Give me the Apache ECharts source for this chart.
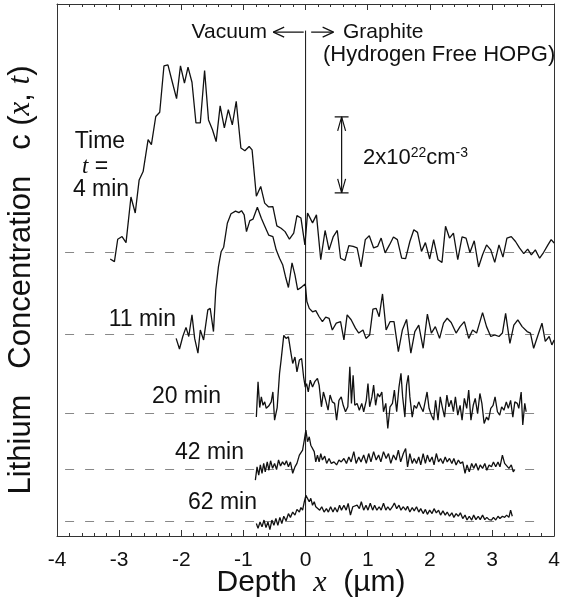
<!DOCTYPE html>
<html><head><meta charset="utf-8">
<script src="https://cdn.jsdelivr.net/npm/echarts@6/dist/echarts.min.js"></script>
<style>html,body{margin:0;padding:0;background:#fff}#c{width:563px;height:604px}</style>
</head><body><div id="c"></div>
<script>
// Depth (µm) and lithium concentration relative to each curve's baseline (10^22 cm^-3)
const curve4min = [[-3.144,-0.19],[-3.076,-0.26],[-3.023,0.33],[-2.953,0.40],[-2.889,0.24],[-2.810,1.44],[-2.741,1.02],[-2.678,1.89],[-2.614,2.11],[-2.534,2.95],[-2.481,2.82],[-2.411,3.56],[-2.347,3.67],[-2.279,4.89],[-2.215,4.92],[-2.147,4.48],[-2.076,4.03],[-2.013,4.89],[-1.949,4.44],[-1.892,4.86],[-1.828,4.46],[-1.764,3.39],[-1.694,3.39],[-1.625,4.77],[-1.562,3.47],[-1.498,3.21],[-1.439,2.90],[-1.375,3.84],[-1.307,3.26],[-1.243,3.74],[-1.179,3.34],[-1.116,3.96],[-1.041,2.73],[-0.977,2.66],[-0.908,2.77],[-0.861,2.68],[-0.792,1.46],[-0.722,1.72],[-0.658,1.28],[-0.594,1.18],[-0.526,1.19],[-0.462,0.68],[-0.394,0.62],[-0.330,0.53],[-0.260,0.33],[-0.191,0.49],[-0.139,0.95],[-0.075,0.89],[-0.011,0.18],[0.032,1.02],[0.112,0.76],[0.175,0.97],[0.244,-0.21],[0.314,0.56],[0.378,0.05],[0.446,0.40],[0.510,0.56],[0.563,-0.17],[0.633,-0.23],[0.696,0.16],[0.765,0.14],[0.829,0.10],[0.892,-0.40],[0.961,0.32],[1.025,0.42],[1.095,0.10],[1.159,0.14],[1.216,0.36],[1.280,-0.03],[1.350,0.18],[1.414,0.39],[1.477,0.32],[1.546,-0.17],[1.610,-0.18],[1.678,0.27],[1.742,0.58],[1.801,0.51],[1.865,0.01],[1.928,0.24],[1.997,-0.19],[2.061,0.32],[2.131,-0.21],[2.195,-0.28],[2.252,0.67],[2.316,0.36],[2.379,0.49],[2.449,-0.21],[2.518,0.39],[2.582,0.36],[2.645,-0.02],[2.714,0.29],[2.784,-0.40],[2.848,-0.08],[2.912,0.18],[2.980,0.05],[3.044,-0.28],[3.112,0.18],[3.176,-0.14],[3.240,0.36],[3.310,0.40],[3.378,0.27],[3.442,0.10],[3.511,-0.05],[3.574,0.07],[3.633,-0.08],[3.697,0.05],[3.766,-0.17],[3.829,-0.02],[3.900,0.18],[3.952,0.32],[4.0,0.23]];
const curve11min = [[-2.083,-0.11],[-2.029,-0.39],[-1.976,-0.06],[-1.924,0.18],[-1.880,-0.06],[-1.828,0.51],[-1.785,-0.11],[-1.732,-0.50],[-1.694,0.11],[-1.641,-0.15],[-1.573,0.64],[-1.535,0.68],[-1.482,0.07],[-1.445,1.17],[-1.402,1.78],[-1.359,2.17],[-1.318,2.29],[-1.259,2.92],[-1.200,3.17],[-1.127,3.24],[-1.073,3.20],[-1.031,3.25],[-0.988,3.14],[-0.951,2.70],[-0.897,2.99],[-0.845,3.03],[-0.776,3.34],[-0.712,3.05],[-0.658,2.85],[-0.594,2.61],[-0.526,2.57],[-0.473,2.22],[-0.419,2.00],[-0.367,1.82],[-0.324,1.52],[-0.276,1.23],[-0.218,1.88],[-0.171,1.56],[-0.127,1.17],[-0.064,1.24],[-0.005,1.32],[0.021,0.86],[0.059,0.68],[0.112,0.59],[0.164,0.62],[0.218,0.46],[0.271,0.33],[0.324,0.45],[0.378,0.42],[0.430,0.11],[0.494,0.29],[0.563,0.33],[0.617,-0.15],[0.669,0.51],[0.733,0.38],[0.802,0.16],[0.856,0.03],[0.924,0.11],[0.972,-0.11],[1.031,-0.02],[1.084,0.66],[1.136,0.68],[1.184,0.46],[1.238,1.06],[1.296,0.11],[1.359,0.33],[1.423,0.33],[1.493,-0.46],[1.557,0.11],[1.625,0.39],[1.694,-0.50],[1.758,0.07],[1.821,0.24],[1.892,-0.37],[1.960,0.53],[2.024,0.03],[2.088,0.20],[2.156,-0.11],[2.220,0.29],[2.279,0.42],[2.343,0.31],[2.422,0.03],[2.486,0.20],[2.555,0.33],[2.625,-0.11],[2.688,0.11],[2.752,0.03],[2.848,0.57],[2.912,0.20],[2.980,-0.06],[3.044,-0.02],[3.112,-0.06],[3.167,0.03],[3.219,0.55],[3.288,-0.24],[3.351,0.24],[3.415,0.38],[3.485,0.20],[3.565,0.07],[3.618,0.03],[3.670,-0.37],[3.740,-0.02],[3.804,0.29],[3.857,-0.19],[3.920,-0.06],[3.963,-0.28],[4.0,-0.15]];
const curve20min = [[-0.792,-0.11],[-0.765,0.82],[-0.738,0.14],[-0.712,0.42],[-0.685,0.20],[-0.658,0.29],[-0.633,0.12],[-0.594,0.18],[-0.553,0.29],[-0.526,0.55],[-0.499,-0.19],[-0.457,0.14],[-0.419,1.04],[-0.394,1.39],[-0.351,2.04],[-0.314,1.96],[-0.276,2.00],[-0.234,1.56],[-0.207,1.30],[-0.171,1.47],[-0.139,1.08],[-0.100,1.39],[-0.064,1.43],[-0.032,0.95],[-0.005,0.68],[0.016,0.77],[0.043,0.55],[0.075,0.86],[0.112,0.68],[0.148,0.82],[0.191,0.91],[0.218,0.73],[0.255,0.16],[0.287,0.55],[0.324,0.33],[0.362,0.07],[0.394,0.47],[0.430,0.29],[0.467,0.25],[0.499,-0.19],[0.537,0.33],[0.574,0.42],[0.606,0.20],[0.642,0.03],[0.680,0.16],[0.712,1.21],[0.738,0.25],[0.765,0.99],[0.792,0.20],[0.829,0.25],[0.865,0.07],[0.904,0.25],[0.935,0.03],[0.977,0.33],[1.004,0.77],[1.031,0.16],[1.068,0.42],[1.095,0.73],[1.127,0.20],[1.159,0.51],[1.190,0.42],[1.227,0.55],[1.254,0.03],[1.291,0.25],[1.323,-0.41],[1.359,0.16],[1.398,0.25],[1.429,0.60],[1.466,0.03],[1.503,0.68],[1.535,1.04],[1.562,0.42],[1.598,-0.11],[1.625,0.73],[1.653,0.99],[1.678,0.42],[1.716,-0.11],[1.748,0.20],[1.785,0.12],[1.821,0.29],[1.853,0.16],[1.892,0.03],[1.928,0.33],[1.955,0.55],[1.987,0.12],[2.024,-0.06],[2.061,-0.19],[2.092,0.33],[2.131,-0.19],[2.167,0.42],[2.199,0.16],[2.236,-0.11],[2.274,0.47],[2.306,0.16],[2.343,0.33],[2.379,0.03],[2.411,0.42],[2.449,-0.06],[2.486,0.20],[2.518,-0.19],[2.555,0.38],[2.593,0.12],[2.625,0.60],[2.661,-0.19],[2.698,0.20],[2.730,0.38],[2.768,-0.02],[2.805,0.51],[2.837,0.25],[2.873,-0.28],[2.912,-0.11],[2.943,-0.19],[2.980,0.12],[3.017,0.20],[3.049,0.42],[3.087,0.03],[3.124,-0.06],[3.155,0.16],[3.192,0.07],[3.230,0.29],[3.262,0.12],[3.299,0.33],[3.335,-0.11],[3.367,0.29],[3.406,0.25],[3.431,0.12],[3.469,0.55],[3.495,-0.32],[3.527,0.25],[3.549,0.03]];
const curve42min = [[-0.808,-0.29],[-0.781,0.06],[-0.754,-0.16],[-0.728,0.11],[-0.701,-0.11],[-0.674,0.15],[-0.649,-0.07],[-0.617,0.19],[-0.590,-0.03],[-0.563,0.22],[-0.531,0.02],[-0.499,0.15],[-0.467,-0.01],[-0.435,0.24],[-0.403,0.08],[-0.371,0.19],[-0.339,0.11],[-0.308,0.22],[-0.276,0.06],[-0.244,0.19],[-0.207,-0.11],[-0.171,0.06],[-0.139,0.15],[-0.100,0.37],[-0.075,0.32],[-0.048,0.50],[-0.021,0.76],[0.005,1.03],[0.032,0.72],[0.059,0.85],[0.084,0.63],[0.112,0.68],[0.139,0.46],[0.164,0.19],[0.191,0.37],[0.218,0.19],[0.244,0.41],[0.271,0.24],[0.308,0.34],[0.339,0.15],[0.378,0.28],[0.414,0.15],[0.457,0.19],[0.499,0.11],[0.537,0.24],[0.574,0.19],[0.617,0.28],[0.658,0.15],[0.696,0.32],[0.733,0.19],[0.776,0.46],[0.813,0.15],[0.856,0.32],[0.892,0.19],[0.935,0.37],[0.977,0.15],[1.015,0.41],[1.052,0.19],[1.095,0.46],[1.136,0.24],[1.175,0.37],[1.211,0.19],[1.254,0.46],[1.296,0.28],[1.334,0.41],[1.371,0.15],[1.414,0.37],[1.455,0.24],[1.493,0.50],[1.530,0.19],[1.573,0.41],[1.610,0.54],[1.641,0.06],[1.678,0.41],[1.716,0.15],[1.748,0.28],[1.785,0.15],[1.821,0.32],[1.853,0.11],[1.892,0.41],[1.928,0.15],[1.960,0.37],[1.997,0.19],[2.035,0.32],[2.067,0.11],[2.104,0.41],[2.140,0.19],[2.172,0.28],[2.210,0.15],[2.247,0.32],[2.279,0.19],[2.316,0.28],[2.354,0.15],[2.386,0.28],[2.422,0.11],[2.459,0.24],[2.491,0.15],[2.529,0.19],[2.566,-0.11],[2.598,0.11],[2.634,-0.07],[2.673,0.15],[2.705,0.02],[2.741,0.15],[2.778,-0.03],[2.810,0.11],[2.848,0.02],[2.884,0.15],[2.916,-0.03],[2.953,0.11],[2.991,0.06],[3.023,0.19],[3.060,0.06],[3.096,0.19],[3.128,0.06],[3.167,0.37],[3.203,0.15],[3.235,0.19],[3.272,0.02],[3.310,0.11],[3.342,-0.07],[3.367,-0.01]];
const curve62min = [[-0.792,-0.06],[-0.765,-0.19],[-0.733,-0.02],[-0.701,-0.15],[-0.669,0.03],[-0.637,-0.17],[-0.606,-0.02],[-0.574,-0.22],[-0.542,0.03],[-0.510,-0.11],[-0.478,0.07],[-0.446,-0.11],[-0.414,0.10],[-0.382,-0.06],[-0.351,0.13],[-0.314,0.01],[-0.276,0.20],[-0.244,0.10],[-0.207,0.24],[-0.171,0.16],[-0.139,0.31],[-0.100,0.24],[-0.075,0.36],[-0.048,0.29],[-0.021,0.51],[0.005,0.68],[0.032,0.64],[0.059,0.51],[0.084,0.60],[0.112,0.42],[0.139,0.51],[0.164,0.38],[0.191,0.42],[0.228,0.29],[0.260,0.38],[0.298,0.24],[0.335,0.33],[0.367,0.24],[0.403,0.38],[0.441,0.24],[0.473,0.36],[0.510,0.24],[0.547,0.42],[0.578,0.29],[0.617,0.42],[0.653,0.29],[0.685,0.47],[0.722,0.16],[0.760,0.38],[0.792,0.33],[0.829,0.42],[0.865,0.33],[0.897,0.51],[0.935,0.29],[0.972,0.42],[1.004,0.29],[1.041,0.47],[1.079,0.29],[1.111,0.42],[1.147,0.29],[1.184,0.38],[1.216,0.29],[1.254,0.47],[1.291,0.29],[1.323,0.38],[1.359,0.29],[1.398,0.38],[1.429,0.48],[1.466,0.33],[1.503,0.42],[1.535,0.29],[1.573,0.38],[1.610,0.29],[1.641,0.39],[1.678,0.24],[1.716,0.36],[1.748,0.27],[1.785,0.38],[1.821,0.24],[1.853,0.33],[1.892,0.20],[1.928,0.31],[1.960,0.18],[1.997,0.29],[2.035,0.20],[2.067,0.33],[2.104,0.22],[2.140,0.29],[2.172,0.16],[2.210,0.27],[2.247,0.16],[2.279,0.24],[2.316,0.13],[2.354,0.22],[2.386,0.10],[2.422,0.20],[2.459,0.13],[2.491,0.22],[2.529,0.07],[2.566,0.16],[2.598,0.03],[2.634,0.13],[2.673,0.03],[2.705,0.16],[2.741,0.04],[2.778,0.13],[2.810,0.04],[2.848,0.16],[2.884,0.04],[2.916,0.10],[2.953,0.04],[2.991,0.03],[3.023,0.10],[3.060,0.03],[3.096,0.13],[3.128,0.07],[3.167,0.13],[3.203,0.10],[3.235,0.16],[3.272,0.10],[3.299,0.29],[3.326,0.13]];

const timeLabels = ['4 min', '11 min', '20 min', '42 min', '62 min'];
const baselines = [7.48, 5.31, 3.24, 1.76, 0.39];           // curve offsets (10^22 cm^-3)
const baselineSpan = [[-3.87, 3.95], [-3.87, 3.95], [-3.87, 3.70], [-3.87, 3.70], [-3.87, 3.70]];
const xTicks = [-4, -3, -2, -1, 0, 1, 2, 3, 4];
const scaleBar = {x: 0.58, from: 9.03, size: 2};             // 2x10^22 cm^-3 bar
const surfaceTop = 13.3;

const PXX = 502 / 8, PXY = 532 / 14;
const curves = [curve4min, curve11min, curve20min, curve42min, curve62min];

function arrowHead(tx, ty, dx, dy, len, half) {
  const px = -dy, py = dx;
  return [
    [tx + (-dx * len + px * half) / PXX, ty + (-dy * len + py * half) / PXY],
    [tx, ty],
    [tx + (-dx * len - px * half) / PXX, ty + (-dy * len - py * half) / PXY]
  ];
}
function lineSeries(data, extra) {
  return Object.assign({type: 'line', data: data, showSymbol: false, symbol: 'none', silent: true,
    animation: false, lineStyle: {color: '#111', width: 1.3}, z: 5}, extra || {});
}

const series = [];
curves.forEach((c, i) => {
  series.push(lineSeries(c.map(p => [p[0], p[1] + baselines[i]]), {
    markLine: {
      silent: true, symbol: 'none', animation: false, label: {show: false},
      lineStyle: {color: '#888', type: [9, 11], width: 1},
      data: [[{coord: [baselineSpan[i][0], baselines[i]]}, {coord: [baselineSpan[i][1], baselines[i]]}]]
    }
  }));
});
series.push(lineSeries([[0, 0], [0, surfaceTop]], {lineStyle: {color: '#111', width: 1}}));
const sbTop = scaleBar.from + scaleBar.size;
const thin = {lineStyle: {color: '#111', width: 1.2}};
series.push(lineSeries([[scaleBar.x, scaleBar.from], [scaleBar.x, sbTop]], thin));
series.push(lineSeries(arrowHead(scaleBar.x, sbTop, 0, 1, 14, 4), thin));
series.push(lineSeries(arrowHead(scaleBar.x, scaleBar.from, 0, -1, 14, 4), thin));
series.push(lineSeries([[scaleBar.x - 7 / PXX, sbTop], [scaleBar.x + 7 / PXX, sbTop]], thin));
series.push(lineSeries([[scaleBar.x - 7 / PXX, scaleBar.from], [scaleBar.x + 7 / PXX, scaleBar.from]], thin));
const arrowY = 13.26;
series.push(lineSeries([[-0.52, arrowY], [-0.03, arrowY]], thin));
series.push(lineSeries(arrowHead(-0.52, arrowY, -1, 0, 11, 5), thin));
series.push(lineSeries([[0.09, arrowY], [0.45, arrowY]], thin));
series.push(lineSeries(arrowHead(0.45, arrowY, 1, 0, 11, 5), thin));

const SANS = '"Liberation Sans", Arial, sans-serif';
const SERIF = '"Liberation Serif", "Times New Roman", serif';
function txt(x, y, text, size, align, rich, extra) {
  return Object.assign({type: 'text', x: x, y: y, silent: true,
    style: {text: text, fontSize: size, fontFamily: SANS, fill: '#111', align: align, verticalAlign: 'middle', rich: rich}}, extra || {});
}
const italicRich = (size) => ({
  n: {fontSize: size, fontFamily: SANS, fill: '#111'},
  i: {fontSize: size, fontFamily: SERIF, fontStyle: 'italic', fill: '#111'},
  s: {fontSize: Math.round(size * 0.64), fontFamily: SANS, fill: '#111', verticalAlign: 'top', padding: [0, 0, 10, 0]}
});

const graphics = [
  txt(267, 32, 'Vacuum', 21, 'right'),
  txt(343, 32, 'Graphite', 21, 'left'),
  txt(323, 55, '(Hydrogen Free HOPG)', 22, 'left'),
  txt(363, 158, '{n|2x10}{s|22}{n|cm}{s|-3}', 22, 'left', italicRich(22)),
  txt(100, 142, 'Time', 23, 'center'),
  txt(95, 167, '{i|t}{n| =}', 23, 'center', italicRich(23)),
  txt(101, 190, timeLabels[0], 23, 'center'),
  txt(176, 320, timeLabels[1], 23, 'right'),
  txt(221, 397, timeLabels[2], 23, 'right'),
  txt(244, 453, timeLabels[3], 23, 'right'),
  txt(257, 503, timeLabels[4], 23, 'right'),
  txt(311, 583, '{n|Depth  }{i|x}{n|  (\u00b5m)}', 30, 'center', italicRich(30)),
  txt(21, 280, '{n|Lithium   Concentration   c (}{i|x}{n|, }{i|t}{n|)}', 31, 'center', italicRich(31), {rotation: Math.PI / 2})
];

const axisCommon = {
  type: 'value', min: -4, max: 4, interval: 1,
  axisLine: {show: true, onZero: false, lineStyle: {color: '#333', width: 1}},
  axisTick: {show: true, inside: true, length: 6, lineStyle: {color: '#333'}},
  minorTick: {show: true, splitNumber: 5, length: 3, lineStyle: {color: '#333'}},
  splitLine: {show: false}
};
const option = {
  animation: false,
  backgroundColor: '#fff',
  grid: {left: 57, right: 4, top: 4, bottom: 68},
  xAxis: [
    Object.assign({}, axisCommon, {position: 'bottom',
      axisLabel: {show: true, fontSize: 21, fontFamily: SANS, color: '#111', margin: 14,
        formatter: v => xTicks.indexOf(v) >= 0 ? String(v) : ''}}),
    Object.assign({}, axisCommon, {position: 'top', axisLabel: {show: false}})
  ],
  yAxis: [
    {type: 'value', min: 0, max: 14, position: 'left', axisLine: {show: true, onZero: false, lineStyle: {color: '#333'}},
      axisTick: {show: false}, axisLabel: {show: false}, splitLine: {show: false}},
    {type: 'value', min: 0, max: 14, position: 'right', axisLine: {show: true, onZero: false, lineStyle: {color: '#333'}},
      axisTick: {show: false}, axisLabel: {show: false}, splitLine: {show: false}}
  ],
  series: series,
  graphic: graphics
};
const chart = echarts.init(document.getElementById('c'), null, {renderer: 'canvas'});
chart.setOption(option);
</script></body></html>
